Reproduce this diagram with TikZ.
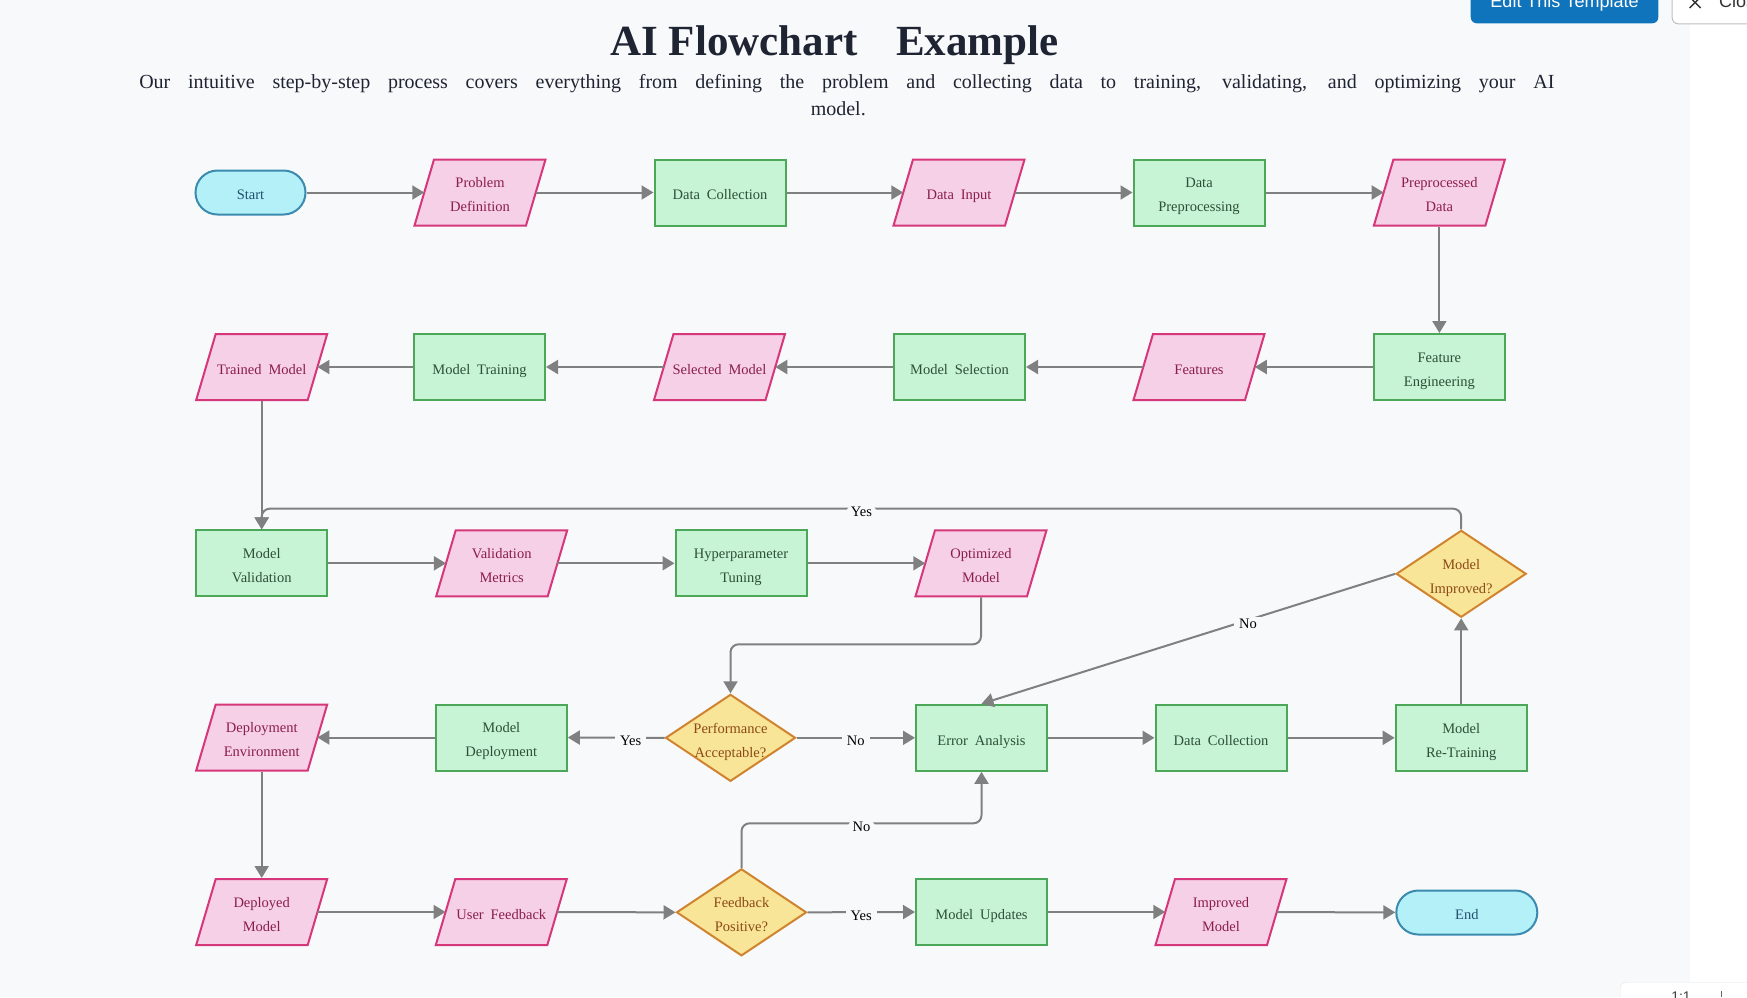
\documentclass[tikz,border=0pt]{standalone}
\usepackage{fontspec}
\setmainfont{Liberation Serif}
\newfontfamily\nodefont{Liberation Serif}[WordSpace=1.9]
\newfontfamily\uifont{Liberation Sans}
\usetikzlibrary{shapes.geometric,arrows.meta}
\pgfdeclarelayer{pageback}
\pgfdeclarelayer{shapeback}
\pgfsetlayers{pageback,shapeback,main}
\newcommand{\nodetxt}[1]{\raisebox{-2.5pt}[\height][\depth]{\begin{tabular}{@{}c@{}}#1\end{tabular}}}
\definecolor{bgc}{HTML}{F8F9FB}
\definecolor{paraf}{HTML}{F5D0E6}
\definecolor{parab}{HTML}{D6377A}
\definecolor{parat}{HTML}{8B1D4E}
\definecolor{rectf}{HTML}{C6F4D4}
\definecolor{rectb}{HTML}{4CA858}
\definecolor{rectt}{HTML}{2F4F36}
\definecolor{diaf}{HTML}{F9E597}
\definecolor{diab}{HTML}{D08430}
\definecolor{diat}{HTML}{8B4A17}
\definecolor{termf}{HTML}{B4F0F8}
\definecolor{termb}{HTML}{3B8BAF}
\definecolor{termt}{HTML}{24506E}
\definecolor{edgec}{HTML}{808080}
\definecolor{titlec}{HTML}{1F2433}
\definecolor{btnblue}{HTML}{0F74BC}
\begin{document}
\begin{tikzpicture}[x=1pt,y=-1pt,
  basenode/.style={font=\nodefont\fontsize{14.5}{24}\selectfont, line width=2pt, inner sep=0pt},
  proc/.style={basenode, rectangle, draw=rectb, fill=rectf, text=rectt, minimum width=131pt, minimum height=66pt},
  datanode/.style={basenode, rectangle, text=parat, minimum width=109.5pt, minimum height=66pt},
  paraback/.style={fill=paraf, draw=parab, line width=2pt},
  term/.style={basenode, rectangle, rounded corners=22pt, draw=termb, fill=termf, text=termt, minimum height=44pt},
  dia/.style={shape=diamond, aspect=1.5, draw=diab, fill=diaf, line width=2pt, inner sep=0pt, minimum width=130pt, minimum height=87pt},
  dtext/.style={font=\nodefont\fontsize{14.5}{24}\selectfont, text=diat, inner sep=0pt},
  edge/.style={draw=edgec, line width=2pt, -{Triangle[length=12pt,width=14pt]}},
  lbl/.style={fill=bgc, font=\fontsize{14.5}{16}\selectfont, text=black, inner xsep=5pt, inner ysep=2pt, yshift=-3.5pt}
]
\useasboundingbox (0,0) rectangle (1747,997);
\clip (0,0) rectangle (1747,997);
\begin{pgfonlayer}{pageback}
\fill[bgc] (0,0) rectangle (1690,997);
\fill[white] (1690,0) rectangle (1747,997);
\end{pgfonlayer}

% header
\node[anchor=base, font=\bfseries\fontsize{43}{50}\selectfont, text=titlec, inner sep=0pt] (title) at (834.5,55) {AI Flowchart \hspace{28pt}Example};
\node[anchor=base, font=\fontsize{20}{26.7}\selectfont, text=titlec, align=center, inner sep=0pt] (subtitle) at (846.8,115)
  {\makebox[1415pt][s]{Our intuitive step-by-step process covers everything from defining the problem and collecting data to training, validating, and optimizing your AI}\\model.\hspace*{17pt}};

% UI elements
\node[fill=btnblue, rounded corners=6pt, minimum width=187.6pt, minimum height=40pt, inner sep=0pt, text=white, font=\uifont\fontsize{18}{20}\selectfont] (editbtn) at (1564.5,3.3) {Edit This Template};
\node[draw=black!25, fill=white, rounded corners=6pt, minimum width=140pt, minimum height=40pt, anchor=north west, inner sep=0pt, line width=1pt] (closebtn) at (1671.7,-16.7) {};
\node[anchor=base west, inner sep=0pt, font=\uifont\fontsize{18}{20}\selectfont, text=black!80] (closetxt) at (1719,7.8) {Close};
\draw[black!80, line width=1.4pt] (1689.5,-3) -- (1700.5,8) (1689.5,8) -- (1700.5,-3);
\node[draw=black!10, fill=white, rounded corners=6pt, minimum width=200pt, minimum height=40pt, anchor=north west, inner sep=0pt] (zoombox) at (1620,982) {};
\node[anchor=north, inner sep=0pt, font=\uifont\fontsize{14}{16}\selectfont, text=black!75] (zoomtxt) at (1681,991.5) {1:1};
\draw[black!60, line width=1.2pt] (1721.7,990.5) -- (1721.7,997);

% row 1
\node[term, minimum width=110pt] (start) at (250.5,192.5) {\nodetxt{Start}};
\node[datanode] (pd) at (480,192.5) {\nodetxt{Problem\\Definition}};
\node[proc] (dc1) at (720,192.5) {\nodetxt{Data Collection}};
\node[datanode] (di) at (959,192.5) {\nodetxt{Data Input}};
\node[proc] (dp) at (1199,192.5) {\nodetxt{Data\\Preprocessing}};
\node[datanode] (ppd) at (1439.4,192.5) {\nodetxt{Preprocessed\\Data}};
% row 2
\node[datanode] (tm) at (261.7,367) {\nodetxt{Trained Model}};
\node[proc] (mt) at (479.5,367) {\nodetxt{Model Training}};
\node[datanode] (sm) at (719.5,367) {\nodetxt{Selected Model}};
\node[proc] (ms) at (959.5,367) {\nodetxt{Model Selection}};
\node[datanode] (feat) at (1199,367) {\nodetxt{Features}};
\node[proc] (fe) at (1439.4,367) {\nodetxt{Feature\\Engineering}};
% row 3
\node[proc] (mv) at (261.7,563.3) {\nodetxt{Model\\Validation}};
\node[datanode] (vm) at (501.7,563.3) {\nodetxt{Validation\\Metrics}};
\node[proc] (ht) at (741,563.3) {\nodetxt{Hyperparameter\\Tuning}};
\node[datanode] (om) at (981,563.3) {\nodetxt{Optimized\\Model}};
\node[dia, label={[dtext]center:{\nodetxt{Model\\Improved?}}}] (mi) at (1461.2,573.8) {};
% row 4
\node[datanode] (de) at (261.7,737.5) {\nodetxt{Deployment\\Environment}};
\node[proc] (md) at (501.3,737.5) {\nodetxt{Model\\Deployment}};
\node[dia, label={[dtext]center:{\nodetxt{Performance\\Acceptable?}}}] (pa) at (730.5,737.8) {};
\node[proc] (ea) at (981.5,737.8) {\nodetxt{Error Analysis}};
\node[proc] (dc2) at (1221,737.8) {\nodetxt{Data Collection}};
\node[proc] (mrt) at (1461.2,737.8) {\nodetxt{Model\\Re-Training}};
% row 5
\node[datanode] (dm) at (261.7,912) {\nodetxt{Deployed\\Model}};
\node[datanode] (uf) at (501.3,912) {\nodetxt{User Feedback}};
\node[dia, label={[dtext]center:{\nodetxt{Feedback\\Positive?}}}] (fp) at (741.5,912.3) {};
\node[proc] (mu) at (981.5,912) {\nodetxt{Model Updates}};
\node[datanode] (im) at (1221,912) {\nodetxt{Improved\\Model}};
\node[term, minimum width=141pt] (end) at (1466.8,912.5) {\nodetxt{End}};

% parallelogram outlines behind the data nodes
\begin{pgfonlayer}{shapeback}
\foreach \n in {pd,di,ppd,tm,sm,feat,vm,om,de,dm,uf,im}{
  \filldraw[paraback] ([xshift=-9.75pt,yshift=1pt]\n.south west) -- ([xshift=-9.75pt,yshift=1pt]\n.south east)
    -- ([xshift=9.75pt,yshift=-1pt]\n.north east) -- ([xshift=9.75pt,yshift=-1pt]\n.north west) -- cycle;
}
\end{pgfonlayer}

\coordinate (j1) at (0,644.3);
\coordinate (j2) at (0,508.7);
\coordinate (j3) at (0,823.3);

% edges
\draw[edge] (start) -- (pd);
\draw[edge] (pd) -- (dc1);
\draw[edge] (dc1) -- (di);
\draw[edge] (di) -- (dp);
\draw[edge] (dp) -- (ppd);
\draw[edge] (ppd.south) -- (fe.north);
\draw[edge] (fe) -- (feat);
\draw[edge] (feat) -- (ms);
\draw[edge] (ms) -- (sm);
\draw[edge] (sm) -- (mt);
\draw[edge] (mt) -- (tm);
\draw[edge] (tm.south) -- (mv.north);
\draw[edge] (mv) -- (vm);
\draw[edge] (vm) -- (ht);
\draw[edge] (ht) -- (om);
\draw[edge, rounded corners=8pt] (om.south) -- (om.south |- j1) -- (pa.north |- j1) -- (pa.north);
\draw[edge] (pa.west) -- node[lbl, pos=0.35] (lyes1) {Yes} (md.east);
\draw[edge] (md) -- (de);
\draw[edge] (pa.east) -- node[lbl] (lno1) {No} (ea.west);
\draw[edge] (ea) -- (dc2);
\draw[edge] (dc2) -- (mrt);
\draw[edge] (mrt.north) -- (mi.south);
\draw[edge, rounded corners=8pt] (mi.north) -- (mi.north |- j2) -- node[lbl] (lyes2) {Yes} (mv.north |- j2) -- (mv.north);
\draw[edge] (mi.west) -- node[lbl, pos=0.356] (lno2) {No} (ea.north);
\draw[edge] (de.south) -- (dm.north);
\draw[edge] (dm) -- (uf);
\draw[edge] (uf) -- (fp.west);
\draw[edge] (fp.east) -- node[lbl] (lyes3) {Yes} (mu.west);
\draw[edge, rounded corners=8pt] (fp.north) -- (fp.north |- j3) -- node[lbl] (lno3) {No} (ea.south |- j3) -- (ea.south);
\draw[edge] (mu) -- (im);
\draw[edge] (im) -- (end);
\end{tikzpicture}
\end{document}
